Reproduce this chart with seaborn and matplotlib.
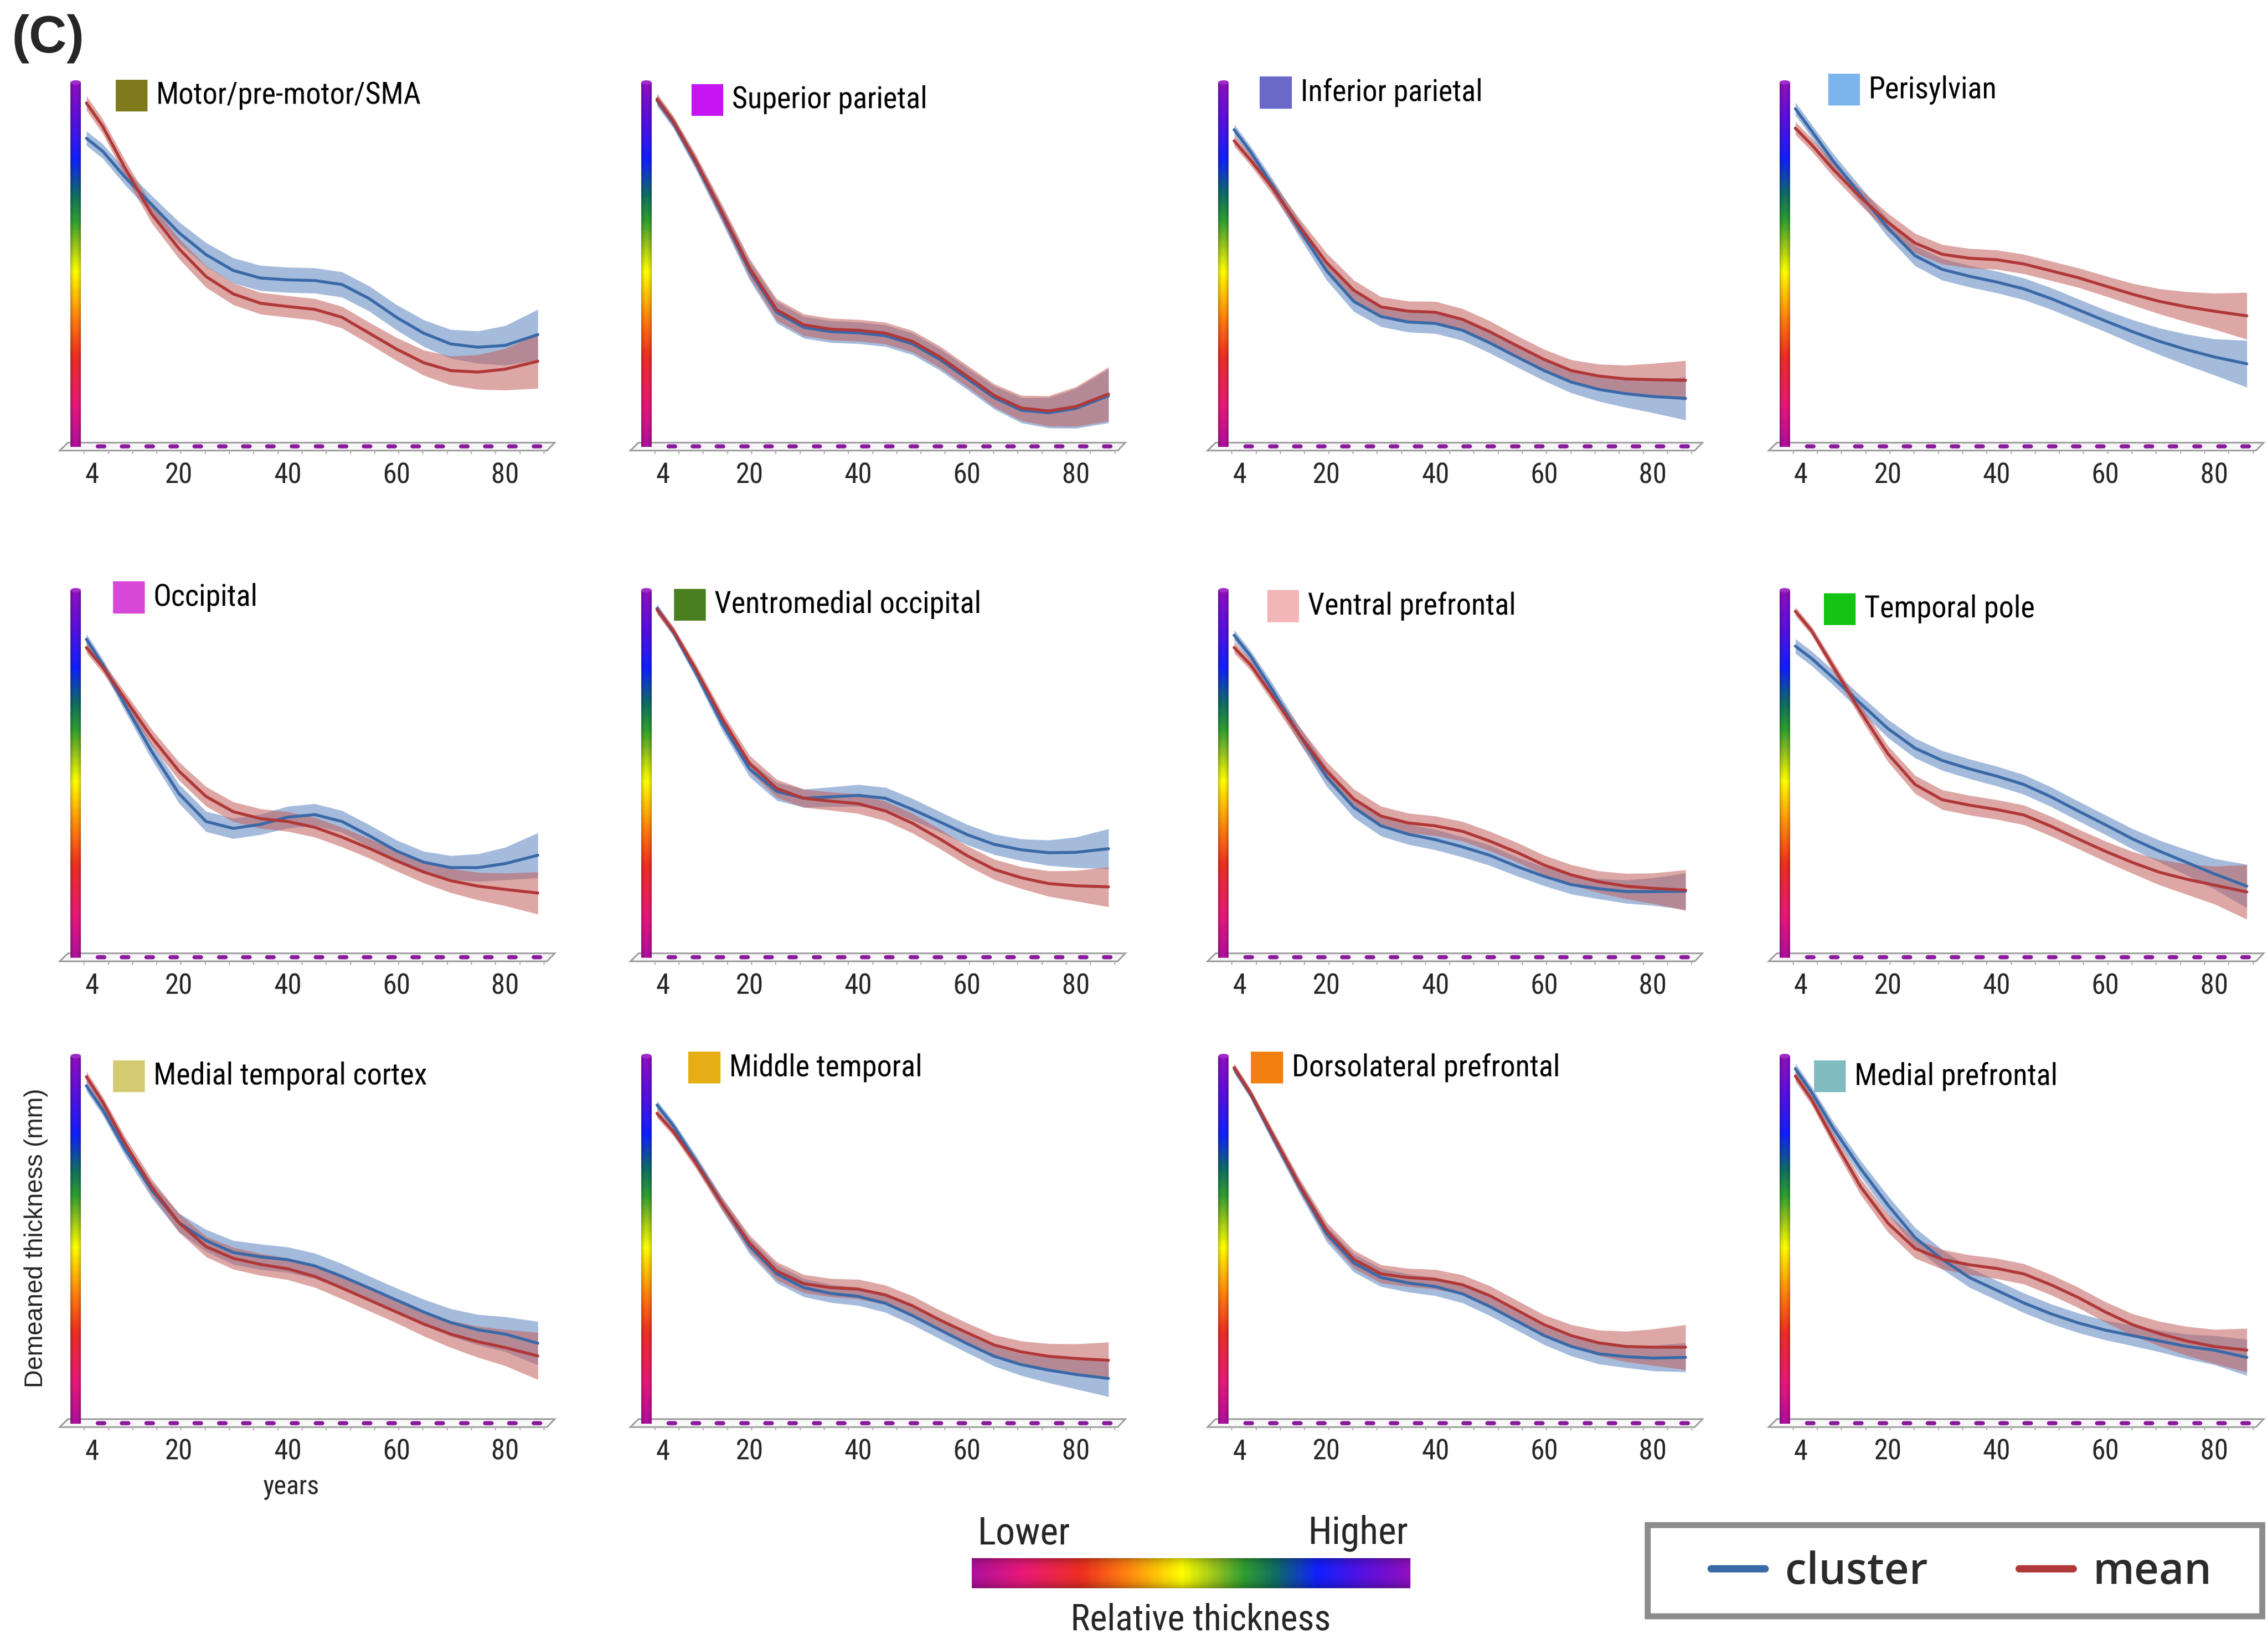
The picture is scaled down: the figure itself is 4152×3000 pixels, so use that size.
import numpy as np
import matplotlib
matplotlib.use("Agg")
import matplotlib.pyplot as plt
import seaborn as sns
from matplotlib import font_manager
from matplotlib.colors import LinearSegmentedColormap
from matplotlib.lines import Line2D
from matplotlib.patches import Rectangle, Polygon, Ellipse

# ----------------------------------------------------------------- data
AGES = [3, 6, 10, 15, 20, 25, 30, 35, 40, 45, 50, 55, 60, 65, 70, 75, 80, 86]
TICK_AGES = [4, 20, 40, 60, 80]
TICK_LABELS = ["4", "20", "40", "60", "80"]

REGIONS = ["Motor/pre-motor/SMA", "Superior parietal", "Inferior parietal", "Perisylvian",
           "Occipital", "Ventromedial occipital", "Ventral prefrontal", "Temporal pole",
           "Medial temporal cortex", "Middle temporal", "Dorsolateral prefrontal", "Medial prefrontal"]
REGION_COLORS = ["#7f7a1c", "#c614f2", "#6a68c8", "#7cb4ec",
                 "#d848d8", "#4a7f20", "#f2b6b6", "#14c414",
                 "#d4cb72", "#e6ae14", "#f28010", "#80bcc0"]

MOTOR_CLUSTER = [0.845, 0.809, 0.739, 0.661, 0.583, 0.522, 0.478, 0.457, 0.452, 0.45, 0.439, 0.40, 0.348, 0.304, 0.274, 0.265, 0.27, 0.30]
MOTOR_MEAN = [0.943, 0.878, 0.765, 0.635, 0.539, 0.461, 0.413, 0.387, 0.378, 0.37, 0.348, 0.304, 0.26, 0.222, 0.20, 0.196, 0.204, 0.226]
MOTOR_CLUSTER_CI = [0.02, 0.02, 0.022, 0.025, 0.03, 0.033, 0.035, 0.035, 0.035, 0.035, 0.035, 0.035, 0.035, 0.037, 0.04, 0.045, 0.055, 0.07]
MOTOR_MEAN_CI = [0.02, 0.02, 0.022, 0.025, 0.028, 0.03, 0.03, 0.03, 0.03, 0.03, 0.03, 0.03, 0.032, 0.035, 0.04, 0.048, 0.058, 0.075]

SUPPAR_CLUSTER = [0.95, 0.888, 0.78, 0.632, 0.478, 0.362, 0.32, 0.308, 0.305, 0.297, 0.274, 0.231, 0.178, 0.125, 0.09, 0.083, 0.095, 0.13]
SUPPAR_MEAN = [0.954, 0.892, 0.785, 0.638, 0.485, 0.369, 0.327, 0.315, 0.312, 0.304, 0.281, 0.238, 0.185, 0.131, 0.096, 0.088, 0.10, 0.135]
SUPPAR_CLUSTER_CI = [0.015, 0.015, 0.018, 0.022, 0.026, 0.03, 0.03, 0.03, 0.03, 0.03, 0.03, 0.03, 0.03, 0.032, 0.035, 0.042, 0.055, 0.075]
SUPPAR_MEAN_CI = [0.015, 0.015, 0.018, 0.022, 0.026, 0.03, 0.03, 0.03, 0.03, 0.03, 0.03, 0.03, 0.03, 0.032, 0.035, 0.042, 0.055, 0.075]

INFPAR_CLUSTER = [0.869, 0.808, 0.715, 0.592, 0.477, 0.392, 0.35, 0.335, 0.331, 0.312, 0.277, 0.238, 0.20, 0.168, 0.148, 0.136, 0.128, 0.123]
INFPAR_MEAN = [0.838, 0.785, 0.708, 0.60, 0.50, 0.423, 0.377, 0.365, 0.362, 0.342, 0.308, 0.269, 0.231, 0.20, 0.185, 0.177, 0.175, 0.173]
INFPAR_CLUSTER_CI = [0.015, 0.015, 0.018, 0.022, 0.026, 0.028, 0.028, 0.028, 0.028, 0.028, 0.028, 0.028, 0.028, 0.03, 0.033, 0.038, 0.045, 0.06]
INFPAR_MEAN_CI = [0.015, 0.015, 0.018, 0.022, 0.026, 0.028, 0.028, 0.028, 0.03, 0.03, 0.03, 0.028, 0.028, 0.03, 0.033, 0.038, 0.045, 0.055]

PERISYL_CLUSTER = [0.927, 0.865, 0.781, 0.688, 0.596, 0.519, 0.481, 0.462, 0.446, 0.427, 0.40, 0.369, 0.338, 0.308, 0.281, 0.258, 0.238, 0.219]
PERISYL_MEAN = [0.873, 0.827, 0.758, 0.681, 0.612, 0.554, 0.523, 0.512, 0.508, 0.496, 0.477, 0.458, 0.435, 0.412, 0.392, 0.377, 0.365, 0.352]
PERISYL_CLUSTER_CI = [0.018, 0.018, 0.02, 0.022, 0.025, 0.028, 0.03, 0.03, 0.03, 0.03, 0.03, 0.03, 0.03, 0.033, 0.037, 0.043, 0.05, 0.065]
PERISYL_MEAN_CI = [0.018, 0.018, 0.02, 0.022, 0.025, 0.027, 0.027, 0.027, 0.027, 0.027, 0.027, 0.027, 0.028, 0.03, 0.035, 0.042, 0.05, 0.065]

OCC_CLUSTER = [0.865, 0.795, 0.687, 0.556, 0.44, 0.363, 0.344, 0.355, 0.375, 0.382, 0.363, 0.324, 0.282, 0.251, 0.236, 0.236, 0.247, 0.27]
OCC_MEAN = [0.842, 0.788, 0.703, 0.595, 0.502, 0.432, 0.39, 0.371, 0.363, 0.347, 0.32, 0.289, 0.255, 0.224, 0.20, 0.185, 0.176, 0.166]
OCC_CLUSTER_CI = [0.015, 0.015, 0.018, 0.022, 0.026, 0.028, 0.028, 0.028, 0.03, 0.03, 0.03, 0.03, 0.03, 0.03, 0.033, 0.038, 0.045, 0.062]
OCC_MEAN_CI = [0.015, 0.015, 0.018, 0.022, 0.025, 0.027, 0.027, 0.027, 0.027, 0.027, 0.027, 0.027, 0.028, 0.03, 0.033, 0.038, 0.045, 0.058]

VMO_CLUSTER = [0.95, 0.885, 0.777, 0.631, 0.508, 0.446, 0.427, 0.431, 0.435, 0.427, 0.396, 0.362, 0.327, 0.30, 0.285, 0.277, 0.278, 0.288]
VMO_MEAN = [0.946, 0.888, 0.785, 0.646, 0.523, 0.454, 0.427, 0.419, 0.412, 0.392, 0.358, 0.315, 0.269, 0.231, 0.208, 0.192, 0.186, 0.183]
VMO_CLUSTER_CI = [0.012, 0.012, 0.015, 0.018, 0.022, 0.025, 0.025, 0.027, 0.03, 0.03, 0.03, 0.028, 0.028, 0.028, 0.03, 0.035, 0.042, 0.055]
VMO_MEAN_CI = [0.012, 0.012, 0.015, 0.018, 0.022, 0.025, 0.025, 0.025, 0.027, 0.027, 0.027, 0.027, 0.027, 0.028, 0.03, 0.035, 0.042, 0.055]

VPF_CLUSTER = [0.876, 0.819, 0.726, 0.602, 0.486, 0.402, 0.351, 0.328, 0.313, 0.293, 0.27, 0.239, 0.212, 0.189, 0.178, 0.17, 0.17, 0.171]
VPF_MEAN = [0.842, 0.795, 0.71, 0.602, 0.502, 0.425, 0.378, 0.359, 0.351, 0.336, 0.309, 0.278, 0.243, 0.216, 0.197, 0.185, 0.179, 0.174]
VPF_CLUSTER_CI = [0.015, 0.015, 0.018, 0.022, 0.026, 0.028, 0.028, 0.028, 0.028, 0.028, 0.028, 0.026, 0.026, 0.026, 0.028, 0.032, 0.038, 0.05]
VPF_MEAN_CI = [0.015, 0.015, 0.018, 0.022, 0.025, 0.027, 0.027, 0.027, 0.027, 0.027, 0.027, 0.027, 0.027, 0.028, 0.03, 0.035, 0.042, 0.056]

TP_CLUSTER = [0.846, 0.812, 0.758, 0.688, 0.619, 0.565, 0.531, 0.508, 0.488, 0.465, 0.431, 0.392, 0.354, 0.315, 0.281, 0.25, 0.219, 0.185]
TP_MEAN = [0.942, 0.888, 0.788, 0.665, 0.55, 0.465, 0.423, 0.408, 0.396, 0.381, 0.35, 0.315, 0.281, 0.25, 0.223, 0.204, 0.188, 0.169]
TP_CLUSTER_CI = [0.02, 0.02, 0.02, 0.022, 0.025, 0.027, 0.027, 0.027, 0.027, 0.027, 0.027, 0.027, 0.027, 0.028, 0.03, 0.035, 0.042, 0.06]
TP_MEAN_CI = [0.012, 0.012, 0.015, 0.018, 0.022, 0.025, 0.027, 0.027, 0.027, 0.027, 0.027, 0.027, 0.028, 0.03, 0.035, 0.042, 0.052, 0.075]

MTC_CLUSTER = [0.918, 0.852, 0.746, 0.631, 0.541, 0.492, 0.459, 0.447, 0.439, 0.422, 0.393, 0.361, 0.328, 0.295, 0.266, 0.246, 0.234, 0.209]
MTC_MEAN = [0.943, 0.873, 0.762, 0.639, 0.541, 0.475, 0.443, 0.426, 0.414, 0.393, 0.361, 0.328, 0.295, 0.262, 0.234, 0.213, 0.197, 0.174]
MTC_CLUSTER_CI = [0.015, 0.015, 0.018, 0.022, 0.026, 0.03, 0.033, 0.035, 0.035, 0.035, 0.035, 0.033, 0.033, 0.035, 0.038, 0.042, 0.048, 0.06]
MTC_MEAN_CI = [0.015, 0.015, 0.018, 0.022, 0.026, 0.028, 0.03, 0.03, 0.03, 0.03, 0.03, 0.03, 0.03, 0.033, 0.037, 0.043, 0.05, 0.065]

MIDTEMP_CLUSTER = [0.865, 0.808, 0.715, 0.592, 0.477, 0.40, 0.362, 0.346, 0.338, 0.319, 0.285, 0.246, 0.208, 0.173, 0.15, 0.135, 0.123, 0.112]
MIDTEMP_MEAN = [0.842, 0.792, 0.708, 0.592, 0.485, 0.408, 0.373, 0.362, 0.358, 0.342, 0.312, 0.273, 0.238, 0.204, 0.185, 0.173, 0.167, 0.162]
MIDTEMP_CLUSTER_CI = [0.012, 0.012, 0.015, 0.018, 0.022, 0.025, 0.025, 0.025, 0.025, 0.025, 0.025, 0.025, 0.025, 0.027, 0.03, 0.035, 0.04, 0.05]
MIDTEMP_MEAN_CI = [0.012, 0.012, 0.015, 0.018, 0.022, 0.025, 0.025, 0.025, 0.027, 0.027, 0.027, 0.027, 0.027, 0.028, 0.03, 0.035, 0.04, 0.05]

DLPF_CLUSTER = [0.965, 0.895, 0.78, 0.64, 0.51, 0.43, 0.39, 0.375, 0.365, 0.345, 0.31, 0.27, 0.23, 0.20, 0.18, 0.172, 0.168, 0.17]
DLPF_MEAN = [0.968, 0.898, 0.785, 0.645, 0.52, 0.44, 0.40, 0.39, 0.385, 0.37, 0.34, 0.30, 0.26, 0.23, 0.21, 0.20, 0.198, 0.198]
DLPF_CLUSTER_CI = [0.012, 0.012, 0.015, 0.018, 0.022, 0.025, 0.025, 0.025, 0.025, 0.025, 0.025, 0.025, 0.025, 0.026, 0.028, 0.03, 0.035, 0.04]
DLPF_MEAN_CI = [0.012, 0.012, 0.015, 0.018, 0.022, 0.025, 0.025, 0.025, 0.027, 0.027, 0.027, 0.027, 0.027, 0.03, 0.035, 0.042, 0.05, 0.062]

MPF_CLUSTER = [0.965, 0.90, 0.80, 0.69, 0.59, 0.50, 0.44, 0.39, 0.355, 0.32, 0.29, 0.265, 0.245, 0.23, 0.215, 0.20, 0.19, 0.17]
MPF_MEAN = [0.945, 0.88, 0.77, 0.64, 0.54, 0.47, 0.44, 0.425, 0.415, 0.40, 0.37, 0.335, 0.295, 0.26, 0.235, 0.215, 0.20, 0.19]
MPF_CLUSTER_CI = [0.015, 0.015, 0.018, 0.022, 0.025, 0.027, 0.027, 0.027, 0.027, 0.027, 0.027, 0.027, 0.027, 0.028, 0.03, 0.034, 0.04, 0.05]
MPF_MEAN_CI = [0.015, 0.015, 0.018, 0.022, 0.025, 0.027, 0.027, 0.027, 0.028, 0.028, 0.028, 0.028, 0.028, 0.03, 0.034, 0.04, 0.047, 0.06]

CLUSTER_SERIES = [MOTOR_CLUSTER, SUPPAR_CLUSTER, INFPAR_CLUSTER, PERISYL_CLUSTER,
                  OCC_CLUSTER, VMO_CLUSTER, VPF_CLUSTER, TP_CLUSTER,
                  MTC_CLUSTER, MIDTEMP_CLUSTER, DLPF_CLUSTER, MPF_CLUSTER]
MEAN_SERIES = [MOTOR_MEAN, SUPPAR_MEAN, INFPAR_MEAN, PERISYL_MEAN,
               OCC_MEAN, VMO_MEAN, VPF_MEAN, TP_MEAN,
               MTC_MEAN, MIDTEMP_MEAN, DLPF_MEAN, MPF_MEAN]
CLUSTER_CIS = [MOTOR_CLUSTER_CI, SUPPAR_CLUSTER_CI, INFPAR_CLUSTER_CI, PERISYL_CLUSTER_CI,
               OCC_CLUSTER_CI, VMO_CLUSTER_CI, VPF_CLUSTER_CI, TP_CLUSTER_CI,
               MTC_CLUSTER_CI, MIDTEMP_CLUSTER_CI, DLPF_CLUSTER_CI, MPF_CLUSTER_CI]
MEAN_CIS = [MOTOR_MEAN_CI, SUPPAR_MEAN_CI, INFPAR_MEAN_CI, PERISYL_MEAN_CI,
            OCC_MEAN_CI, VMO_MEAN_CI, VPF_MEAN_CI, TP_MEAN_CI,
            MTC_MEAN_CI, MIDTEMP_MEAN_CI, DLPF_MEAN_CI, MPF_MEAN_CI]

SERIES_NAMES = ["cluster", "mean"]

# ----------------------------------------------------------------- style
sns.set_theme(style="white")
entries = font_manager.fontManager.ttflist
names = {f.name for f in entries}
NARROW, STRETCH, NS = "Liberation Sans", "normal", 0.9
for cand in ["Liberation Sans Narrow", "Arial Narrow", "Roboto Condensed",
             "Noto Sans Condensed", "DejaVu Sans Condensed", "Open Sans Condensed"]:
    if cand in names:
        NARROW, STRETCH, NS = cand, "normal", 0.97
        break
else:
    for fam in ["Noto Sans", "Roboto", "Open Sans"]:
        if any(f.name == fam and str(f.stretch) in ("condensed", "semi-condensed")
               and str(f.style) == "normal" for f in entries):
            NARROW, STRETCH, NS = fam, "condensed", 0.97
            break
plt.rcParams["font.family"] = [NARROW, "DejaVu Sans"]
plt.rcParams["font.stretch"] = STRETCH

BLUE_LINE, BLUE_BAND = "#3a69a8", "#5b83c0"
RED_LINE, RED_BAND = "#b03838", "#c2605b"

RAINBOW = LinearSegmentedColormap.from_list("thick", [
    (0.00, "#b0109e"), (0.11, "#e8187a"), (0.25, "#ee3020"), (0.35, "#ff8010"),
    (0.48, "#ffff00"), (0.56, "#90c020"), (0.62, "#30a030"), (0.69, "#107060"),
    (0.79, "#1020ff"), (0.90, "#5a10e0"), (1.00, "#9010c0")])

W, HH = 1568.0, 1133.0
def fx(x):
    return x / W
def fy(y):
    return 1 - y / HH

def cylinder(n=300, m=40):
    vals = np.linspace(0, 1, n)
    rgb = RAINBOW(vals)[:, :3]
    t = np.linspace(0, 1, m)
    shade = 0.70 + 0.30 * np.sin(np.pi * t) ** 0.6
    return np.clip(rgb[:, None, :] * shade[None, :, None], 0, 1)

fig = plt.figure(figsize=(4152 / 300, 3000 / 300), dpi=300)

S = 3.76                                   # shrunk px per year
COL_X4 = [63.5, 458, 857, 1245]
ROW_TF = [(57, 306), (408, 659), (730, 981)]
XMIN, XMAX = -3.0, 90.0
YMIN, YMAX = -0.05, 1.03
LABEL_DX = [16.5, 20, 14, 19, 14.5, 8, 19, 16, 14.5, 18, 8, 9]
LABEL_DY = [9, 12, 7, 5, 5, 10, 11, 13, 14, 8, 8, 14]

vimg = cylinder()
dash_x = np.arange(5.7, 87.0, 4.45)
dash_y = np.full_like(dash_x, -0.011)
tick_x = np.arange(2.6, 89.0, 4.45)

for i in range(12):
    r, c = divmod(i, 4)
    T, F = ROW_TF[r]
    H = F - T
    x4 = COL_X4[c]
    left = x4 + (XMIN - 4) * S
    right = x4 + (XMAX - 4) * S
    bot = F - YMIN * H
    top = F - YMAX * H
    ax = fig.add_axes([fx(left), fy(bot), (right - left) / W, (bot - top) / HH])
    ax.patch.set_alpha(0)

    # floor plate
    ax.add_patch(Polygon([(-1.9, -0.022), (87.7, -0.022), (89.1, 0.0), (-0.4, 0.0)],
                         closed=True, fc="#faf7fa", ec="#9c9c9c", lw=0.7, zorder=1))
    ax.hlines(dash_y, dash_x - 0.6, dash_x + 0.6, color="#8a1a9c", lw=1.8,
              capstyle="round", zorder=2)
    ax.vlines(tick_x, -0.031, -0.022, color="#b0b0b0", lw=0.5, zorder=1)

    # vertical colour bar
    ax.imshow(vimg, extent=[0.1, 2.0, -0.012, 1.0], origin="lower",
              aspect="auto", zorder=6, interpolation="bilinear")
    ax.add_patch(Ellipse((1.05, 1.0), 1.9, 0.012, color="#a02cc8", zorder=7, lw=0))

    cl = np.array(CLUSTER_SERIES[i]); ml = np.array(MEAN_SERIES[i])
    cc = np.array(CLUSTER_CIS[i]); mc = np.array(MEAN_CIS[i])
    ax.fill_between(AGES, cl - cc, cl + cc, color=BLUE_BAND, alpha=0.55, lw=0, zorder=3)
    ax.fill_between(AGES, ml - mc, ml + mc, color=RED_BAND, alpha=0.55, lw=0, zorder=3)
    sns.lineplot(x=AGES, y=cl, ax=ax, color=BLUE_LINE, lw=1.3, zorder=4)
    sns.lineplot(x=AGES, y=ml, ax=ax, color=RED_LINE, lw=1.3, zorder=4)

    ax.set_xlim(XMIN, XMAX)
    ax.set_ylim(YMIN, YMAX)
    ax.set_xticks(TICK_AGES, TICK_LABELS)
    ax.set_yticks([])
    ax.tick_params(axis="x", length=0, pad=0.5, labelsize=12.8 * NS)
    for sp in ax.spines.values():
        sp.set_visible(False)
    ax.set_xlabel(""); ax.set_ylabel("")

    # region label
    sx = x4 + LABEL_DX[i]
    sy = T + LABEL_DY[i]
    fig.add_artist(Rectangle((fx(sx), fy(sy + 11)), 22 / W, 22 / HH,
                             transform=fig.transFigure, fc=REGION_COLORS[i], ec="none"))
    fig.text(fx(sx + 28), fy(sy), REGIONS[i], ha="left", va="center",
             fontsize=13.6 * NS, color="black")

# outer texts
fig.text(fx(8), fy(27), "(C)", ha="left", va="center", fontsize=23,
         fontweight="bold", family=["Liberation Sans", "DejaVu Sans"], stretch="normal")
fig.text(fx(25), fy(856), "Demeaned thickness (mm)", rotation=90, ha="center",
         va="center", fontsize=11, family=["Liberation Sans", "DejaVu Sans"], stretch="normal")
fig.text(fx(201), fy(1028), "years", ha="center", va="center", fontsize=12 * NS)

# horizontal colour bar
cax = fig.add_axes([fx(672), fy(1098), (975 - 672) / W, 21 / HH])
cax.imshow(cylinder().transpose(1, 0, 2), extent=[0, 1, 0, 1], origin="lower",
           aspect="auto", interpolation="bilinear")
cax.axis("off")
fig.text(fx(708), fy(1060), "Lower", ha="center", va="center", fontsize=17.5 * NS)
fig.text(fx(939), fy(1060), "Higher", ha="center", va="center", fontsize=17.5 * NS)
fig.text(fx(830), fy(1120), "Relative thickness", ha="center", va="center", fontsize=16.5 * NS)

# legend
fig.add_artist(Rectangle((fx(1139), fy(1117)), 425 / W, 63 / HH, fill=False,
                         ec="#8c8c8c", lw=2.6, transform=fig.transFigure))
handles = [Line2D([], [], color=BLUE_LINE, lw=3.2), Line2D([], [], color=RED_LINE, lw=3.2)]
fig.legend(handles, SERIES_NAMES, loc="center", bbox_to_anchor=(fx(1356), fy(1087)),
           ncol=2, frameon=False, handlelength=1.25, handletextpad=0.47, columnspacing=2.1,
           labelcolor="#2b2b2b",
           prop={"family": ["Open Sans", "DejaVu Sans"], "weight": "semibold",
                 "size": 19, "stretch": "normal"})

fig.savefig("out.png", dpi=300)
